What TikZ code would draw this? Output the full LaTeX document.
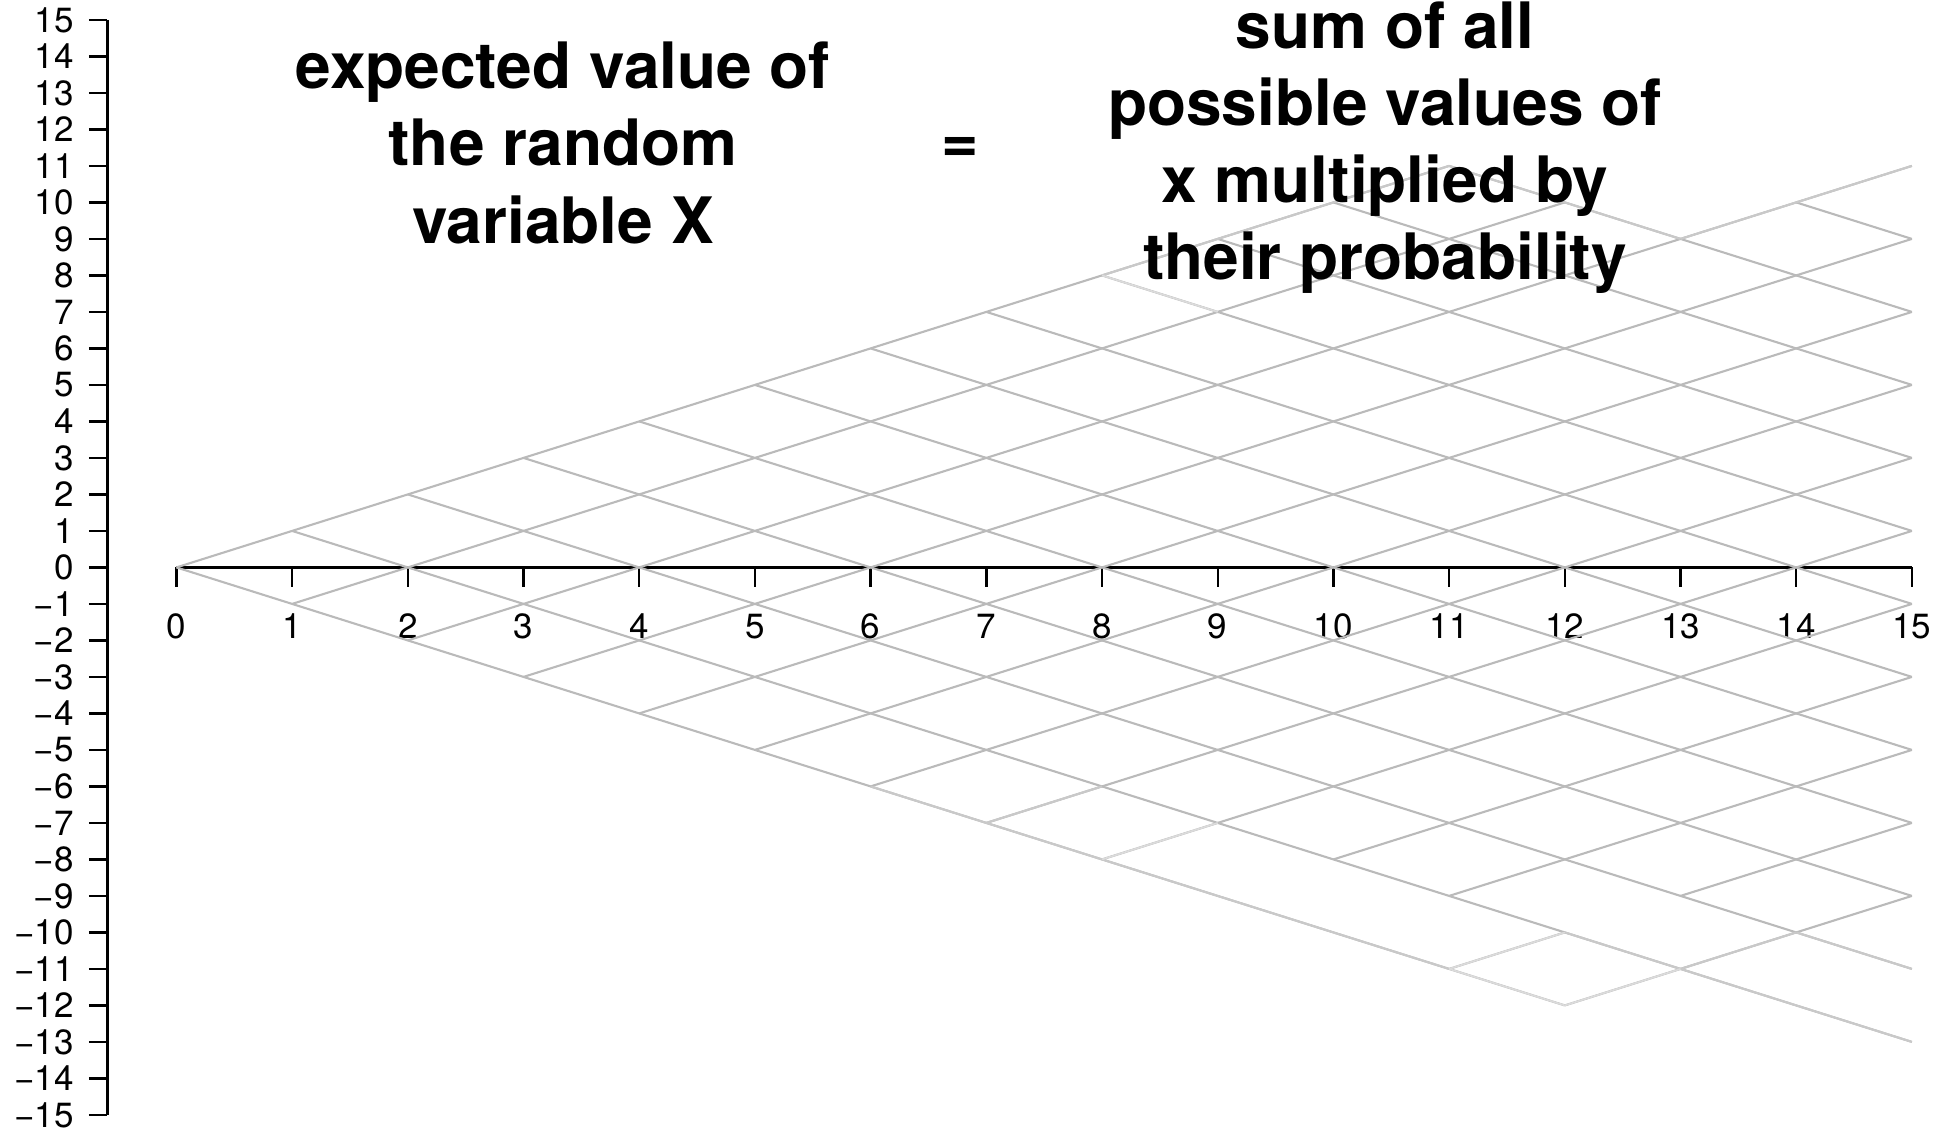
\documentclass[tikz,border=0pt]{standalone}
\usepackage{fontspec}
\setmainfont{TeX Gyre Heros}
\definecolor{latgray}{gray}{0.73}
\definecolor{latlight}{gray}{0.79}
\definecolor{latfaint}{gray}{0.86}
\tikzset{
  axisline/.style={line width=1.2pt, draw=black},
  lat/.style={line width=1.05pt, draw=latgray},
  latlight/.style={line width=1.05pt, draw=latlight},
  latfaint/.style={line width=0.85pt, draw=latfaint},
  ticklab/.style={font=\fontsize{17.5}{20}\selectfont, inner sep=0pt},
  ttl/.style={font=\fontsize{32}{38}\selectfont\bfseries, inner sep=0pt, anchor=base}
}
\begin{document}
\begin{tikzpicture}[x=0.5pt,y=-0.5pt]
\useasboundingbox (0,0) rectangle (1934,1132);
% y axis
\coordinate (ytop) at (107.3,19.9);
\coordinate (ybot) at (107.3,1114.9);
\draw[axisline] (ytop) -- (ybot);
\foreach \k in {-15,...,15}{
  \pgfmathsetmacro\yy{567.4-36.5*\k}
  \pgfmathtruncatemacro\ak{abs(\k)}
  \draw[axisline] (88.8,\yy) -- (107.3,\yy);
  \node[ticklab, anchor=east] (yl\ak\ifnum\k<0 m\fi) at (74,\yy) {\ifnum\k<0 −\fi\ak};
}
% x axis
\coordinate (xl) at (176.4,567.4);
\coordinate (xr) at (1911.5,567.4);
\draw[axisline] (xl) -- (xr);
\foreach \i in {0,...,15}{
  \pgfmathsetmacro\xx{176.4+115.7*\i}
  \draw[axisline] (\xx,567.4) -- (\xx,586.7);
  \node[ticklab, anchor=base] (xlab\i) at (\xx,638) {\i};
}
% lattice of walks
\begin{scope}[shift={(176.4,567.4)}, x=57.85pt, y=18.25pt]
  % up-going lines j = i + c
  \foreach \a/\b/\c in {0/11/0, 1/12/-2, 2/15/-4, 3/15/-6, 4/15/-8, 5/15/-10,
      6/15/-12, 7/15/-14, 8/15/-16, 10/15/-18, 11/15/-20, 11/12/-22, 13/15/-22, 12/15/-24}
    \draw[lat] (\a,{\a+\c}) -- (\b,{\b+\c});
  % down-going lines j = s - i
  \foreach \a/\b/\s in {0/12/0, 1/15/2, 2/15/4, 3/15/6, 4/15/8, 5/15/10, 6/15/12,
      7/15/14, 8/15/16, 9/15/18, 10/15/20, 11/15/22, 14/15/24}
    \draw[lat] (\a,{\s-\a}) -- (\b,{\s-\b});
  % rarely used edges, lighter
  \foreach \a/\b/\c in {7/8/-14, 13/14/-24, 8/11/0, 13/15/-4}
    \draw[latlight] (\a,{\a+\c}) -- (\b,{\b+\c});
  \foreach \a/\b/\s in {6/11/0, 12/15/2, 14/15/4, 11/13/22}
    \draw[latlight] (\a,{\s-\a}) -- (\b,{\s-\b});
  \foreach \a/\b/\c in {8/9/-16, 11/12/-22, 12/13/-24}
    \draw[latfaint] (\a,{\a+\c}) -- (\b,{\b+\c});
  \foreach \a/\b/\s in {11/12/0, 8/9/16}
    \draw[latfaint] (\a,{\s-\a}) -- (\b,{\s-\b});
\end{scope}
% titles
\node[ttl] (l1) at (563,88) {expected value of};
\node[ttl] (l2) at (563,165.5) {the random};
\node[ttl] (l3) at (563,243) {variable X};
\node[font=\fontsize{32}{38}\selectfont\bfseries, inner sep=0pt] (eq) at (960.5,150) {=};
\node[ttl] (r1) at (1385,48) {sum of all};
\node[ttl] (r2) at (1385,125) {possible values of};
\node[ttl] (r3) at (1385,202) {x multiplied by};
\node[ttl] (r4) at (1385,279) {their probability};
\end{tikzpicture}
\end{document}
